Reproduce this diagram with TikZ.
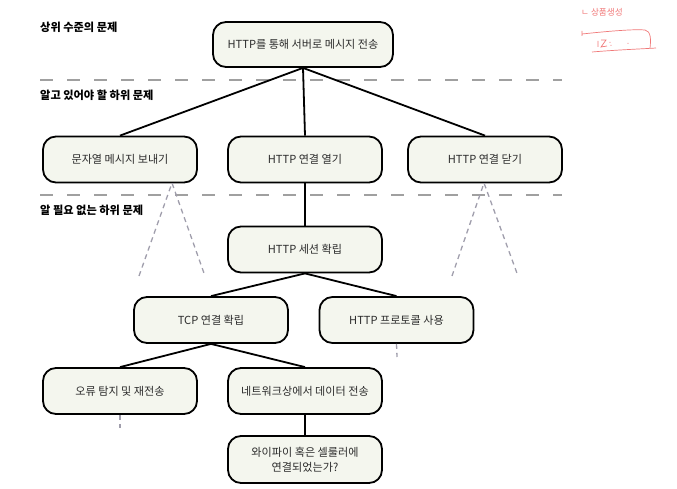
\documentclass[tikz,border=0pt]{standalone}
\usepackage{fontspec}
\setmainfont{Noto Sans CJK KR}
\begin{document}
\begin{tikzpicture}[x=1pt,y=-1pt,
  box/.style={draw=black, line width=1.8pt, rounded corners=13pt, fill=boxfill,
    minimum width=154pt, minimum height=46pt, inner sep=2pt,
    font=\fontsize{11.1}{15}\selectfont, text=textgray, align=center},
  link/.style={draw=black, line width=1.8pt},
  level/.style={draw=dashgray, line width=2pt, dash pattern=on 13pt off 14pt},
  hidden/.style={draw=hidgray, line width=1.3pt, dash pattern=on 5pt off 4pt},
  lab/.style={anchor=west, font=\bfseries\fontsize{11.2}{13}\selectfont, text=black, inner sep=0pt},
  note/.style={draw=notered, line width=0.7pt}
]
\definecolor{boxfill}{HTML}{F4F6EE}
\definecolor{textgray}{HTML}{2B2B2B}
\definecolor{dashgray}{HTML}{A0A0A0}
\definecolor{hidgray}{HTML}{A09EAC}
\definecolor{notered}{HTML}{F07878}
\useasboundingbox (0,0) rectangle (677,489);

% level separators
\coordinate (l1a) at (40,80); \coordinate (l1b) at (562,80);
\coordinate (l2a) at (40,195); \coordinate (l2b) at (562,195);
\draw[level] (l1a) -- (l1b);
\draw[level] (l2a) -- (l2b);

% level labels
\node[lab] (t1) at (40,27) {상위 수준의 문제};
\node[lab] (t2) at (40,95) {알고 있어야 할 하위 문제};
\node[lab] (t3) at (40,210) {알 필요 없는 하위 문제};

% nodes
\node[box, minimum width=180pt, minimum height=45pt] (top) at (303,44.5) {HTTP를 통해 서버로 메시지 전송};
\node[box] (msg) at (120,159.5) {문자열 메시지 보내기};
\node[box] (open) at (305,159.5) {HTTP 연결 열기};
\node[box] (close) at (485,159.5) {HTTP 연결 닫기};
\node[box] (sess) at (305,249.5) {HTTP 세션 확립};
\node[box] (tcp) at (211,320) {TCP 연결 확립};
\node[box] (proto) at (396.5,320) {HTTP 프로토콜 사용};
\node[box] (err) at (120,391) {오류 탐지 및 재전송};
\node[box] (net) at (305,391) {네트워크상에서 데이터 전송};
\node[box, minimum height=47pt] (wifi) at (305,459.5) {와이파이 혹은 셀룰러에\\연결되었는가?};

% connectors
\draw[link] (top.south) -- (msg.north);
\draw[link] (top.south) -- (open.north);
\draw[link] (top.south) -- (close.north);
\draw[link] (open.south) -- (sess.north);
\draw[link] (sess.south) -- (tcp.north);
\draw[link] (sess.south) -- (proto.north);
\draw[link] (tcp.south) -- (err.north);
\draw[link] (tcp.south) -- (net.north);
\draw[link] (net.south) -- (wifi.north);

% hidden sub-problems
\coordinate (mA) at (172,183);
\coordinate (m1) at (139,276); \coordinate (m2) at (205,276);
\draw[hidden] (m1) -- (mA) -- (m2);
\coordinate (cA) at (484,183);
\coordinate (c1) at (452,276); \coordinate (c2) at (518,276);
\draw[hidden] (c1) -- (cA) -- (c2);
\coordinate (pE) at (397,357);
\draw[hidden] (proto.south) -- (pE);
\coordinate (eE) at (120,428);
\draw[hidden] (err.south) -- (eE);

% handwritten note
\node[anchor=west, text=notered, font=\fontsize{8.6}{10}\selectfont, inner sep=0pt] (hn) at (581,12) {ㄴ 상품생성};
\draw[note] (582,31) -- (582,36) (582,34) .. controls (610,31) and (635,29) .. (645,30)
  .. controls (651,31) and (651,40) .. (650,48);
\draw[note] (592,52) .. controls (615,50) and (640,49) .. (656,48);
\draw[note] (598,41) -- (598,47) (601,40) -- (606,40) -- (601,47) -- (607,46) (610,42) -- (610,43) (611,45) -- (611,46) (628,43) -- (628,44);
\end{tikzpicture}
\end{document}
